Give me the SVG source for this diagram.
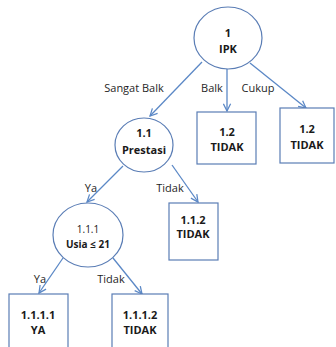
<svg xmlns="http://www.w3.org/2000/svg" width="336" height="347" viewBox="0 0 336 347">
<defs>
<style>
.shape{fill:#fff;stroke:#5a7db5;stroke-width:1.2}
.conn{fill:none;stroke:#5b88c6;stroke-width:1.3}
.nt{font-family:"Open Sans","Liberation Sans",sans-serif;font-weight:bold;font-size:11px;fill:#1a1a1a;text-anchor:middle}
.lt{font-family:"Open Sans","Liberation Sans",sans-serif;font-size:11px;fill:#1f1f1f;text-anchor:middle}
</style>
<marker id="ah" viewBox="0 0 10 10" refX="9" refY="5" markerWidth="9" markerHeight="9" markerUnits="userSpaceOnUse" orient="auto">
<path d="M1,1 L9,5 L1,9" fill="none" stroke="#5b88c6" stroke-width="1.4"/>
</marker>
</defs>
<rect width="336" height="347" fill="#fff"/>
<g id="connectors">
<line class="conn" x1="202" y1="62" x2="150" y2="116" marker-end="url(#ah)"/>
<line class="conn" x1="227" y1="69" x2="227" y2="111" marker-end="url(#ah)"/>
<line class="conn" x1="250" y1="63" x2="306" y2="108" marker-end="url(#ah)"/>
<line class="conn" x1="123" y1="166" x2="87" y2="202" marker-end="url(#ah)"/>
<line class="conn" x1="172" y1="165" x2="198" y2="202" marker-end="url(#ah)"/>
<line class="conn" x1="63" y1="258" x2="39" y2="293" marker-end="url(#ah)"/>
<line class="conn" x1="113" y1="258" x2="142" y2="294" marker-end="url(#ah)"/>
<text class="lt" x="134" y="92">Sangat Balk</text>
<text class="lt" x="212" y="92">Balk</text>
<text class="lt" x="258" y="92">Cukup</text>
<text class="lt" x="91" y="192">Ya</text>
<text class="lt" x="170" y="192">Tidak</text>
<text class="lt" x="40" y="283">Ya</text>
<text class="lt" x="111" y="283">Tidak</text>
</g>
<g id="n1">
<ellipse class="shape" cx="228" cy="38" rx="34" ry="31"/>
<text class="nt" x="228" y="37">1</text>
<text class="nt" x="228" y="53">IPK</text>
</g>
<g id="n1_2a">
<rect class="shape" x="197" y="112" width="59" height="52"/>
<text class="nt" x="227" y="136">1.2</text>
<text class="nt" x="227" y="151">TIDAK</text>
</g>
<g id="n1_2b">
<rect class="shape" x="280" y="108" width="54" height="55"/>
<text class="nt" x="307" y="133">1.2</text>
<text class="nt" x="307" y="149">TIDAK</text>
</g>
<g id="n1_1">
<ellipse class="shape" cx="144" cy="145" rx="29" ry="27"/>
<text class="nt" x="144" y="137">1.1</text>
<text class="nt" x="144" y="154">Prestasi</text>
</g>
<g id="n1_1_2">
<rect class="shape" x="169" y="203" width="49" height="57"/>
<text class="nt" x="193" y="224">1.1.2</text>
<text class="nt" x="193" y="238">TIDAK</text>
</g>
<g id="n1_1_1">
<ellipse class="shape" cx="88" cy="235" rx="35" ry="32"/>
<text class="nt" x="88" y="233" style="font-weight:normal;font-size:10px">1.1.1</text>
<text class="nt" x="88" y="248" style="font-size:10px">Usia ≤ 21</text>
</g>
<g id="n1_1_1_1">
<rect class="shape" x="9" y="294" width="59" height="60"/>
<text class="nt" x="38" y="319">1.1.1.1</text>
<text class="nt" x="38" y="334">YA</text>
</g>
<g id="n1_1_1_2">
<rect class="shape" x="112" y="294" width="56" height="60"/>
<text class="nt" x="140" y="319">1.1.1.2</text>
<text class="nt" x="140" y="334">TIDAK</text>
</g>
</svg>
